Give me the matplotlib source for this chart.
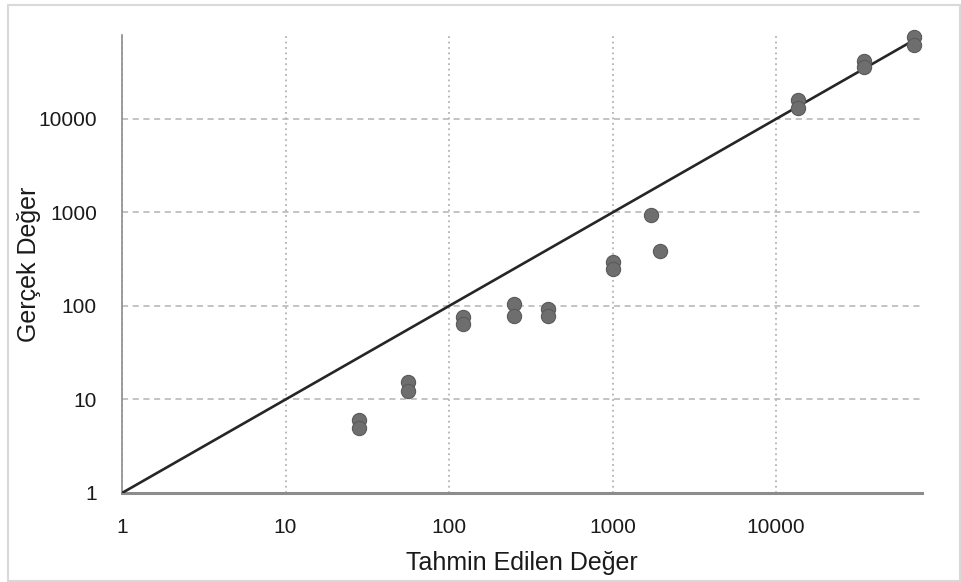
import matplotlib.pyplot as plt
import numpy as np
from matplotlib.patches import Rectangle
from matplotlib.ticker import FixedLocator, NullLocator

plt.rcParams['font.family'] = ['Liberation Sans', 'DejaVu Sans']

tahmin = [28, 28, 56, 56, 122, 122, 250, 250, 400, 400,
          1000, 1000, 1720, 1950, 13600, 13600, 34500, 34500, 69800, 69800]
gercek = [6.0, 5.0, 15.4, 12.3, 76, 64, 105, 78, 93, 78,
          295, 249, 940, 387, 15960, 13100, 41700, 36000, 75300, 61900]

ticks = [1, 10, 100, 1000, 10000]
tick_labels = ['1', '10', '100', '1000', '10000']
x_max = 78000
y_max = 79000

fig = plt.figure(figsize=(9.61, 5.82), dpi=100)
ax = fig.add_axes([122 / 961, 1 - 493 / 582, 800 / 961, 458 / 582])

# light border round the whole chart
fig.patches.append(Rectangle((8 / 961, 1 / 582), 952 / 961, 576 / 582,
                             transform=fig.transFigure, fill=False,
                             edgecolor='#d9d9d9', linewidth=1.5))

ax.set_xscale('log')
ax.set_yscale('log')
ax.set_xlim(1, x_max)
ax.set_ylim(1, y_max)

# y = x reference line
ax.plot([1, x_max], [1, x_max], color='#262626', linewidth=1.9, zorder=3)

ax.scatter(tahmin, gercek, s=105, color='#6e6e6e', edgecolor='#5a5a5a',
           linewidth=0.8, zorder=4, clip_on=False)

ax.xaxis.set_major_locator(FixedLocator(ticks))
ax.yaxis.set_major_locator(FixedLocator(ticks))
ax.xaxis.set_minor_locator(NullLocator())
ax.yaxis.set_minor_locator(NullLocator())
ax.set_xticklabels(tick_labels)
ax.set_yticklabels(tick_labels)
ax.tick_params(axis='both', length=0, labelsize=15, colors='#1a1a1a')
ax.tick_params(axis='x', pad=18)
ax.tick_params(axis='y', pad=18)

ax.grid(axis='y', color='#b3b3b3', linestyle=(0, (4, 3)), linewidth=1.1)
ax.grid(axis='x', color='#b3b3b3', linestyle=(0, (1, 2)), linewidth=1.3)
ax.set_axisbelow(True)

for s in ['top', 'right']:
    ax.spines[s].set_visible(False)
ax.spines['left'].set_color('#8c8c8c')
ax.spines['left'].set_linewidth(1.2)
ax.spines['bottom'].set_color('#8c8c8c')
ax.spines['bottom'].set_linewidth(2.2)

ax.set_xlabel('Tahmin Edilen Değer', fontsize=18, labelpad=10, color='#1a1a1a')
ax.set_ylabel('Gerçek Değer', fontsize=18, color='#1a1a1a', va='center')
ax.yaxis.set_label_coords((29 - 122) / 800, 0.5)

fig.savefig('out.png', dpi=100)
